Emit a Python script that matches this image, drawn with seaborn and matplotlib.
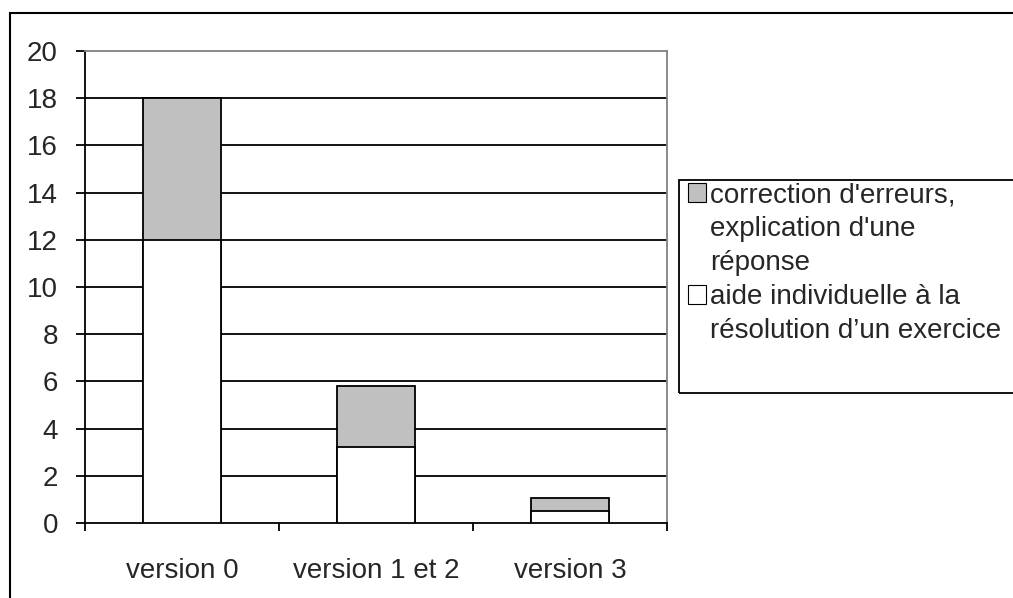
import matplotlib
matplotlib.use("Agg")
import matplotlib.pyplot as plt
import matplotlib.patches as mpatches
import pandas as pd
import seaborn as sns

# Data
categories = ["version 0", "version 1 et 2", "version 3"]
aide_individuelle = [12, 3.2, 0.5]
correction_erreurs = [6, 2.6, 0.55]
legend_correction = ["correction d'erreurs,", "explication d'une", "réponse"]
legend_aide = ["aide individuelle à la", "résolution d\u2019un exercice"]
y_ticks = list(range(0, 21, 2))

GREY = "#c0c0c0"
FS = 20
W, H = 1013, 598


def main():
    sns.set_theme(style="white")
    plt.rcParams["font.family"] = ["Liberation Sans", "DejaVu Sans"]

    df = pd.DataFrame({
        "version": categories,
        "aide": aide_individuelle,
        "total": [a + c for a, c in zip(aide_individuelle, correction_erreurs)],
    })

    fig = plt.figure(figsize=(W / 100, H / 100), dpi=100)
    ax = fig.add_axes([85 / W, 1 - 523 / H, 582 / W, 472 / H])

    # stacked bars: full height in grey, lower part in white drawn over it
    sns.barplot(data=df, x="version", y="total", color=GREY, saturation=1,
                width=0.4, edgecolor="black", linewidth=1.3, ax=ax, zorder=3)
    sns.barplot(data=df, x="version", y="aide", color="white", saturation=1,
                width=0.4, edgecolor="black", linewidth=1.3, ax=ax, zorder=4)

    ax.set_ylim(0, 20)
    ax.set_xlim(-0.5, 2.5)
    ax.set_yticks(y_ticks)
    ax.set_yticklabels([str(t) for t in y_ticks], fontsize=FS)
    ax.set_xlabel("")
    ax.set_ylabel("")

    # x ticks between categories
    ax.set_xticks([-0.5, 0.5, 1.5, 2.5], minor=True)
    ax.set_xticks([0, 1, 2])
    ax.set_xticklabels(categories, fontsize=FS)
    ax.tick_params(axis="x", which="major", length=0, pad=25)
    ax.tick_params(axis="x", which="minor", length=6, width=1.3,
                   color="black", direction="out", bottom=True)
    ax.tick_params(axis="y", length=6.5, width=1.3, color="black",
                   direction="out", left=True, pad=13)

    for t in y_ticks[1:-1]:
        ax.axhline(t, color="black", linewidth=1.3, zorder=1)

    for side in ["left", "bottom"]:
        ax.spines[side].set_color("black")
        ax.spines[side].set_linewidth(1.3)
    for side in ["top", "right"]:
        ax.spines[side].set_color("#808080")
        ax.spines[side].set_linewidth(1.3)

    # legend: one row per text line, swatch only on the first line
    blank = dict(facecolor="none", edgecolor="none")
    handles = [mpatches.Patch(facecolor=GREY, edgecolor="black", linewidth=0.8)]
    handles += [mpatches.Patch(**blank) for _ in legend_correction[1:]]
    handles += [mpatches.Patch(facecolor="white", edgecolor="black", linewidth=0.8)]
    handles += [mpatches.Patch(**blank) for _ in legend_aide[1:]]
    labels = legend_correction + legend_aide
    fig.legend(handles, labels, loc="upper left",
               bbox_to_anchor=(688 / W, 1 - 182 / H),
               fontsize=FS, frameon=False,
               handlelength=0.65, handleheight=0.65, handletextpad=0.15,
               borderpad=0, labelspacing=0.29, borderaxespad=0)

    # legend frame (runs past the right edge like the original)
    fig.patches.append(mpatches.Rectangle(
        (679 / W, 1 - 393 / H), 0.5, 213 / H,
        transform=fig.transFigure, fill=False, edgecolor="black",
        linewidth=1.3))

    # outer chart border
    fig.patches.append(mpatches.Rectangle(
        (10 / W, -0.05), 1.1, 1 - 13 / H + 0.05,
        transform=fig.transFigure, fill=False, edgecolor="black",
        linewidth=1.5))

    fig.savefig("out.png", dpi=100)


if __name__ == '__main__':
    main()
